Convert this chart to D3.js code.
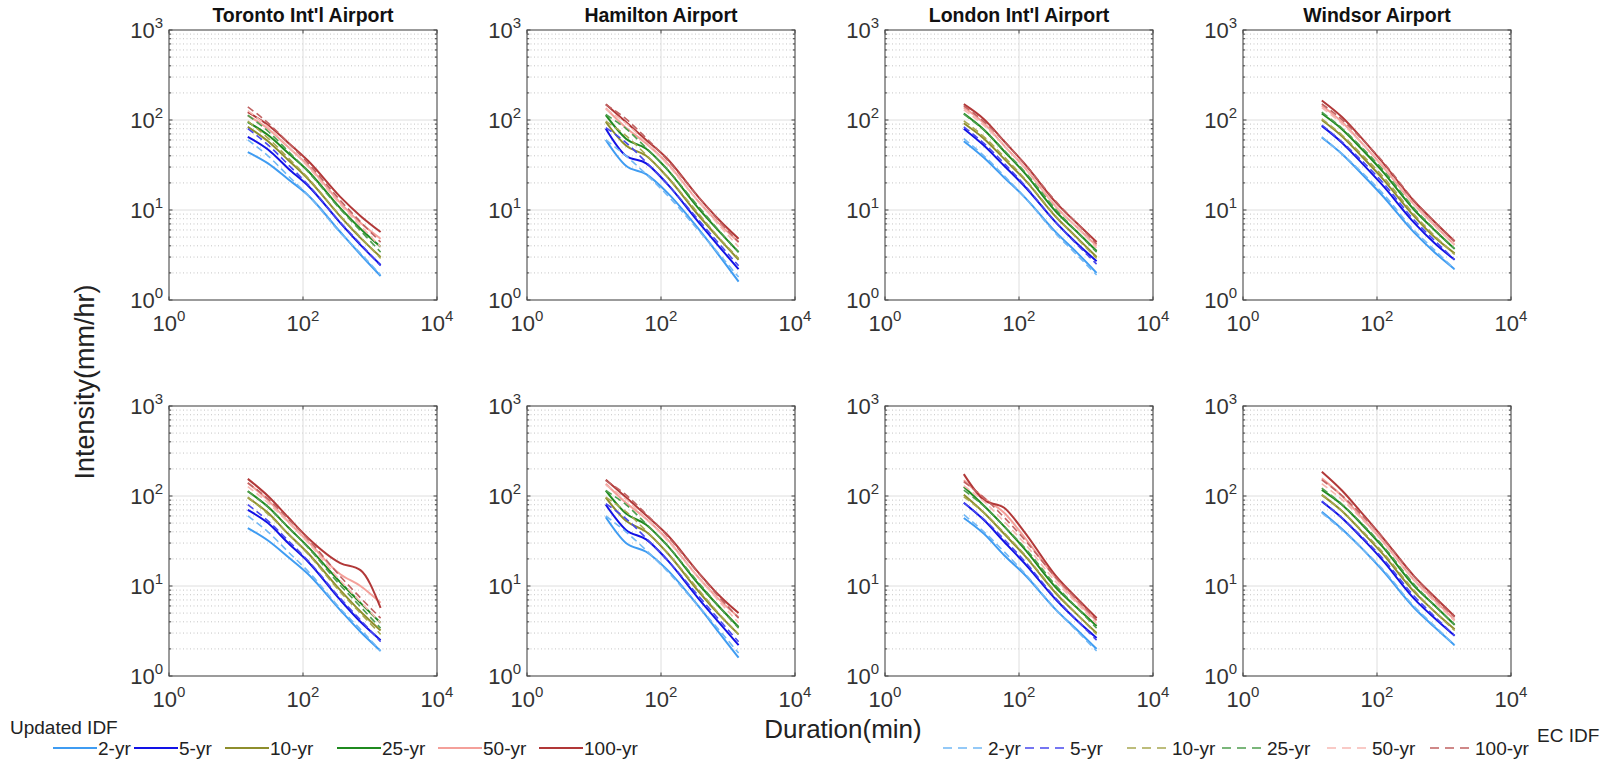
<!DOCTYPE html>
<html>
<head>
<meta charset="utf-8">
<script src="https://cdn.jsdelivr.net/npm/d3@7"></script>
<style>
  body { margin: 0; background: #fff; }
  text { font-family: "Liberation Sans", Arial, Helvetica, sans-serif; }
</style>
</head>
<body>
<svg id="chart"></svg>
<script>
const width = 1620;
const height = 764;

// durations (min) shared by every curve
const durations = [15, 30, 60, 120, 360, 720, 1440];
const periods = ["2-yr", "5-yr", "10-yr", "25-yr", "50-yr", "100-yr"];
const stations = ["Toronto Int'l Airport", "Hamilton Airport", "London Int'l Airport", "Windsor Airport"];
const xTickExps = [0, 2, 4];
const yTickExps = [0, 1, 2, 3];

// EC IDF (dashed), one per station, rows = return periods
const torontoEC = [
  [60, 40, 24, 14.5, 5.6, 3.3, 1.9],
  [80, 53, 32, 19, 7.3, 4.2, 2.4],
  [97, 63, 38, 22.5, 8.6, 5.0, 2.9],
  [113, 75, 45, 26.5, 10.2, 5.9, 3.4],
  [127, 84, 51, 30, 11.5, 6.7, 3.9],
  [140, 93, 56, 33, 12.8, 7.4, 4.4]
];
const hamiltonEC = [
  [60, 40, 25, 15, 6.0, 3.3, 1.8],
  [82, 56, 34, 20, 7.8, 4.3, 2.4],
  [97, 67, 41, 24, 9.2, 5.0, 2.9],
  [115, 80, 49, 29, 11, 6.0, 3.4],
  [132, 92, 56, 33, 12.5, 6.9, 3.9],
  [148, 103, 63, 37, 14, 7.7, 4.4]
];
const londonEC = [
  [62, 40, 24, 14, 5.4, 3.2, 1.9],
  [84, 55, 33, 19, 7.2, 4.2, 2.5],
  [98, 65, 39, 22.5, 8.4, 4.9, 2.9],
  [116, 77, 46, 27, 10, 5.8, 3.4],
  [130, 87, 52, 30, 11, 6.5, 3.8],
  [144, 96, 58, 33, 12.3, 7.2, 4.2]
];
const windsorEC = [
  [65, 42, 26, 15.5, 5.9, 3.6, 2.2],
  [88, 57, 35, 20.5, 7.7, 4.6, 2.8],
  [103, 68, 41, 24, 8.9, 5.2, 3.2],
  [122, 81, 49, 28.5, 10.4, 6.1, 3.7],
  [137, 91, 55, 32, 11.6, 6.7, 4.1],
  [151, 101, 61, 35, 12.7, 7.4, 4.5]
];

// Updated IDF (solid), top row
const torontoTop = [
  [44, 33, 22, 14.5, 5.7, 3.2, 1.85],
  [65, 47, 29, 18.5, 7.2, 4.1, 2.45],
  [84, 58, 36, 22, 8.5, 4.9, 3.0],
  [95, 68, 43, 27, 10.5, 6.2, 3.9],
  [112, 80, 50, 31, 12, 7.2, 4.8],
  [122, 88, 56, 35, 14, 8.6, 5.7]
];
const hamiltonTop = [
  [60, 31, 25, 16, 6.2, 3.2, 1.6],
  [80, 40, 33, 20, 7.4, 4.0, 2.2],
  [95, 52, 40, 24, 8.8, 4.9, 2.8],
  [113, 62, 48, 29, 10.5, 5.9, 3.4],
  [135, 82, 55, 34, 12.5, 7.2, 4.4],
  [150, 95, 60, 38, 14, 7.9, 4.8]
];
const londonTop = [
  [58, 38, 23, 14, 5.6, 3.4, 2.0],
  [80, 52, 31, 18.5, 7.2, 4.3, 2.7],
  [92, 62, 37, 22, 8.3, 5.0, 3.0],
  [118, 78, 45, 26, 9.5, 5.8, 3.5],
  [138, 92, 52, 30, 10.8, 6.5, 4.0],
  [150, 102, 58, 33, 12, 7.2, 4.4]
];
const windsorTop = [
  [64, 42, 25, 14.5, 5.6, 3.4, 2.2],
  [86, 56, 33, 19, 7.2, 4.3, 2.8],
  [100, 66, 39, 22.5, 8.5, 5.0, 3.3],
  [118, 79, 47, 27, 10, 6.0, 3.7],
  [145, 95, 55, 31, 11.5, 6.8, 4.1],
  [165, 108, 62, 34, 12.5, 7.4, 4.5]
];

// Updated IDF (solid), bottom row
const torontoBottom = [
  [44, 32, 21, 13.5, 5.4, 3.1, 1.9],
  [70, 50, 30, 18.5, 7.0, 4.0, 2.5],
  [96, 65, 38, 23, 9.0, 5.2, 3.2],
  [113, 76, 45, 27, 11.0, 6.5, 3.9],
  [140, 90, 52, 31, 13.5, 10.0, 6.5],
  [155, 100, 58, 34, 18, 15, 5.7]
];
const hamiltonBottom = [
  [58, 30, 24, 15.5, 6.0, 3.1, 1.6],
  [80, 42, 33, 20, 7.3, 4.0, 2.2],
  [96, 53, 40, 24, 8.8, 4.9, 2.9],
  [115, 64, 48, 29, 10.6, 6.0, 3.5],
  [137, 84, 56, 34, 12.5, 7.2, 4.5],
  [152, 97, 61, 38, 14.2, 8.0, 5.0]
];
const londonBottom = [
  [57, 38, 22, 13.5, 5.4, 3.3, 2.0],
  [84, 54, 31, 18, 7.0, 4.2, 2.65],
  [103, 65, 38, 22, 8.2, 4.9, 3.0],
  [127, 78, 46, 26, 9.5, 5.8, 3.6],
  [150, 95, 65, 35, 12, 6.8, 4.1],
  [175, 90, 74, 40, 12.8, 7.4, 4.4]
];
const windsorBottom = [
  [67, 43, 26, 15, 5.7, 3.5, 2.2],
  [87, 57, 34, 19.5, 7.2, 4.4, 2.8],
  [103, 68, 40, 23, 8.6, 5.2, 3.3],
  [117, 80, 48, 27.5, 10, 6.1, 3.7],
  [157, 100, 57, 32, 11.6, 7.0, 4.2],
  [186, 115, 64, 35, 12.8, 7.6, 4.6]
];

const ecByStation = [torontoEC, hamiltonEC, londonEC, windsorEC];
const updatedByRow = [
  [torontoTop, hamiltonTop, londonTop, windsorTop],
  [torontoBottom, hamiltonBottom, londonBottom, windsorBottom]
];

const colors = ["#3f9cf2", "#1212e6", "#8e8e2c", "#1f8a1f", "#f4a09a", "#b13838"];
const dashColors = ["#72b8f5", "#4848ee", "#a8a850", "#4f9f4f", "#f7b9b4", "#c06262"];

const svg = d3.select("#chart")
    .attr("width", width)
    .attr("height", height);

const panelW = 268;
const panelH = 270;
const lefts = [169, 527, 885, 1243];
const tops = [30, 406];

const x = d3.scaleLog().domain([1, 1e4]).range([0, panelW]);
const y = d3.scaleLog().domain([1, 1e3]).range([panelH, 0]);

const line = d3.line()
    .x(d => x(d[0]))
    .y(d => y(d[1]))
    .curve(d3.curveMonotoneX);

// minor values 2..9 per decade
const minorY = [];
for (let e = 0; e < 3; e++) {
  for (let m = 2; m <= 9; m++) minorY.push(m * Math.pow(10, e));
}

function powLabel(sel, exp, supSize) {
  sel.append("tspan").text("10");
  sel.append("tspan")
      .attr("dy", -10)
      .attr("font-size", supSize)
      .text(exp);
}

tops.forEach((top, r) => {
  lefts.forEach((left, c) => {
    const g = svg.append("g").attr("transform", `translate(${left},${top})`);

    // minor grid (horizontal only)
    g.selectAll(".minor")
      .data(minorY)
      .enter().append("line")
        .attr("x1", 0).attr("x2", panelW)
        .attr("y1", d => y(d)).attr("y2", d => y(d))
        .attr("stroke", "#c4c4c4")
        .attr("stroke-width", 1)
        .attr("stroke-dasharray", "1,2.5");

    // major grid
    g.selectAll(".gy")
      .data([10, 100])
      .enter().append("line")
        .attr("x1", 0).attr("x2", panelW)
        .attr("y1", d => y(d)).attr("y2", d => y(d))
        .attr("stroke", "#dedede");
    g.append("line")
        .attr("x1", x(100)).attr("x2", x(100))
        .attr("y1", 0).attr("y2", panelH)
        .attr("stroke", "#dedede");

    // minor ticks on y (both sides)
    g.selectAll(".my")
      .data(minorY)
      .enter().append("path")
        .attr("d", d => `M0,${y(d)}h2.2M${panelW},${y(d)}h-2.2`)
        .attr("stroke", "#444");

    // major ticks
    yTickExps.forEach(e => {
      const yy = y(Math.pow(10, e));
      g.append("path").attr("d", `M0,${yy}h3.5M${panelW},${yy}h-3.5`).attr("stroke", "#444");
    });
    xTickExps.forEach(e => {
      const xx = x(Math.pow(10, e));
      g.append("path").attr("d", `M${xx},${panelH}v-3.5M${xx},0v3.5`).attr("stroke", "#444");
    });

    // curves: updated (solid) then EC (dashed)
    const upd = updatedByRow[r][c];
    const ec = ecByStation[c];
    upd.forEach((vals, i) => {
      g.append("path")
          .datum(durations.map((d, k) => [d, vals[k]]))
          .attr("fill", "none")
          .attr("stroke", colors[i])
          .attr("stroke-width", 2)
          .attr("d", line);
    });
    ec.forEach((vals, i) => {
      g.append("path")
          .datum(durations.map((d, k) => [d, vals[k]]))
          .attr("fill", "none")
          .attr("stroke", dashColors[i])
          .attr("stroke-width", 1.6)
          .attr("stroke-dasharray", "7,4")
          .attr("d", line);
    });

    // box
    g.append("rect")
        .attr("width", panelW).attr("height", panelH)
        .attr("fill", "none")
        .attr("stroke", "#4a4a4a")
        .attr("stroke-width", 1.1);

    // tick labels
    yTickExps.forEach(e => {
      const t = g.append("text")
          .attr("x", -6)
          .attr("y", y(Math.pow(10, e)) + 8)
          .attr("text-anchor", "end")
          .attr("font-size", 22)
          .attr("fill", "#333");
      powLabel(t, e, 15);
    });
    xTickExps.forEach(e => {
      const t = g.append("text")
          .attr("x", x(Math.pow(10, e)))
          .attr("y", panelH + 31)
          .attr("text-anchor", "middle")
          .attr("font-size", 22)
          .attr("fill", "#333");
      powLabel(t, e, 15);
    });

    if (r === 0) {
      g.append("text")
          .attr("x", panelW / 2)
          .attr("y", -8)
          .attr("text-anchor", "middle")
          .attr("font-size", 19.5)
          .attr("font-weight", "bold")
          .attr("fill", "#111")
          .text(stations[c]);
    }
  });
});

// axis titles
svg.append("text")
    .attr("transform", "translate(94,382) rotate(-90)")
    .attr("text-anchor", "middle")
    .attr("font-size", 27)
    .attr("fill", "#222")
    .text("Intensity(mm/hr)");

svg.append("text")
    .attr("x", 843)
    .attr("y", 738)
    .attr("text-anchor", "middle")
    .attr("font-size", 26)
    .attr("fill", "#222")
    .text("Duration(min)");

// legends
const legY = 748;
const solidX = [53, 134, 225, 337, 438, 539];
const dashX = [943, 1025, 1127, 1222, 1327, 1430];

svg.append("text")
    .attr("x", 10).attr("y", 734)
    .attr("font-size", 19).attr("fill", "#222")
    .text("Updated IDF");

periods.forEach((p, i) => {
  svg.append("line")
      .attr("x1", solidX[i]).attr("x2", solidX[i] + 44)
      .attr("y1", legY).attr("y2", legY)
      .attr("stroke", colors[i]).attr("stroke-width", 2);
  svg.append("text")
      .attr("x", solidX[i] + 45).attr("y", legY + 7)
      .attr("font-size", 19).attr("fill", "#222")
      .text(p);

  svg.append("line")
      .attr("x1", dashX[i]).attr("x2", dashX[i] + 44)
      .attr("y1", legY).attr("y2", legY)
      .attr("stroke", dashColors[i]).attr("stroke-width", 1.6)
      .attr("stroke-dasharray", "9,6");
  svg.append("text")
      .attr("x", dashX[i] + 45).attr("y", legY + 7)
      .attr("font-size", 19).attr("fill", "#222")
      .text(p);
});

svg.append("text")
    .attr("x", 1537).attr("y", 742)
    .attr("font-size", 19).attr("fill", "#222")
    .text("EC IDF");
</script>
</body>
</html>
